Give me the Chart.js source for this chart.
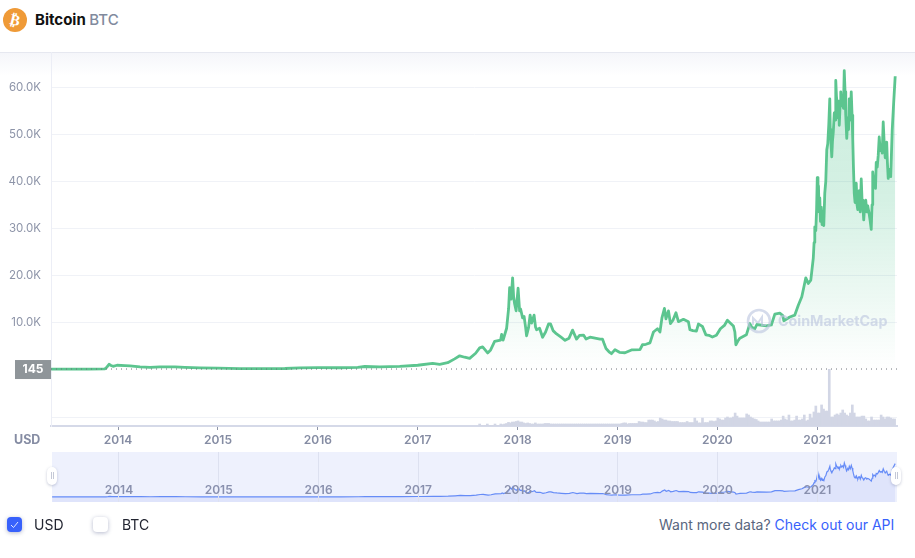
<!DOCTYPE html>
<html>
<head>
<meta charset="utf-8">
<title>Bitcoin BTC</title>
<script src="https://cdn.jsdelivr.net/npm/chart.js@4"></script>
<style>
  html, body { margin: 0; padding: 0; background: #fff; }
  body { width: 915px; height: 558px; position: relative; overflow: hidden; font-family: Inter, sans-serif; }
  .abs { position: absolute; }
  #title { left: 35px; top: 11px; font-size: 15px; font-weight: 700; color: #111; line-height: 18px; white-space: nowrap; }
  #title span { font-weight: 500; color: #808a9d; }
  #topBand { left: 0; top: 52px; width: 915px; height: 24px; background: linear-gradient(#f5f6fa, #fff); border-top: 1px solid #e6e8f0; box-sizing: border-box; }
  #usdLabel { left: 14px; top: 432px; font-size: 12.5px; font-weight: 700; color: #858ca3; line-height: 15px; }
  #mainChart { left: 0; top: 40px; }
  #navBox { left: 52px; top: 452px; width: 845px; height: 50px; background: #eef1fd; }
  #navChart { left: 0; top: 452px; }
  .handle { width: 10px; height: 18px; top: 467px; background: #fff; border-radius: 5px; box-shadow: 0 1px 3px rgba(90,100,140,.35); }
  .handle i { position: absolute; left: 3.5px; top: 5px; width: 1px; height: 7px; border-left: 1px solid #c4c8d6; border-right: 1px solid #c4c8d6; }
  #mark { left: 778px; top: 311px; font-size: 14.3px; font-weight: 700; color: rgba(188,197,222,.62); line-height: 19px; white-space: nowrap; }
  .check { top: 517px; width: 15px; height: 15px; border-radius: 4px; box-shadow: 0 1px 4px rgba(70,80,130,.4); box-sizing: border-box; }
  .lbl { top: 516px; font-size: 14px; color: #222531; line-height: 18px; }
  #more { left: 659px; top: 516px; font-size: 14px; color: #58667e; line-height: 18px; white-space: nowrap; }
  #more a { color: #3861fb; text-decoration: none; }
</style>
</head>
<body>
<svg class="abs" style="left:3px;top:8px" width="24" height="24" viewBox="0 0 24 24">
  <circle cx="12" cy="12" r="12" fill="#ef9a37"/>
  <text x="12" y="17" text-anchor="middle" transform="rotate(14 12 12)" font-family="DejaVu Sans" font-weight="700" font-size="15" fill="#fff">₿</text>
</svg>
<div class="abs" id="title">Bitcoin <span>BTC</span></div>
<div class="abs" id="topBand"></div>
<canvas class="abs" id="mainChart" width="915" height="410"></canvas>
<svg class="abs" style="left:746px;top:308px" width="26" height="26" viewBox="0 0 26 26" fill="none" stroke="rgba(188,197,222,.62)">
  <circle cx="13" cy="13" r="11" stroke-width="2.6"/>
  <path d="M7 17 V10 L12 15 M12 15 L16 9 V17 L20 17" stroke-width="2"/>
</svg>
<div class="abs" id="mark">CoinMarketCap</div>
<div class="abs" id="usdLabel">USD</div>
<div class="abs" id="navBox"></div>
<canvas class="abs" id="navChart" width="915" height="50"></canvas>
<div class="abs handle" style="left:47px"><i></i></div>
<div class="abs handle" style="left:891px"><i></i></div>
<svg class="abs check" style="left:7px;background:#3861fb" viewBox="0 0 15 15" fill="none"><path d="M4 8 L6.5 10.5 L11 5" stroke="#dfe6ff" stroke-width="1"/></svg>
<div class="abs lbl" style="left:34px">USD</div>
<div class="abs check" style="left:93px;background:#fff"></div>
<div class="abs lbl" style="left:122px">BTC</div>
<div class="abs" id="more">Want more data? <a>Check out our API</a></div>

<script>
const yearTicks = [2014, 2015, 2016, 2017, 2018, 2019, 2020, 2021];
const priceTicks = [10000, 20000, 30000, 40000, 50000, 60000];
const volumeTicks = [50];
const lastPrice = 145;

const dates = [
  2013.33, 2013.5, 2013.7, 2013.87, 2013.89, 2013.91, 2013.93, 2013.95, 2013.99, 2014.07, 2014.12, 2014.22, 2014.32, 2014.42, 2014.57, 2014.67, 2014.82,
  2015.0, 2015.22, 2015.42, 2015.67, 2015.82, 2016.0, 2016.22, 2016.4, 2016.47, 2016.62, 2016.82, 2017.0, 2017.02, 2017.15, 2017.22, 2017.3, 2017.37,
  2017.42, 2017.47, 2017.52, 2017.58, 2017.62, 2017.65, 2017.7, 2017.73, 2017.77, 2017.83, 2017.84, 2017.855, 2017.89, 2017.91, 2017.92, 2017.935, 2017.95,
  2017.96, 2017.97, 2017.985, 2018.005, 2018.02, 2018.03, 2018.05, 2018.065, 2018.08, 2018.09, 2018.11, 2018.125, 2018.14, 2018.165, 2018.18, 2018.19,
  2018.22, 2018.25, 2018.28, 2018.31, 2018.33, 2018.355, 2018.39, 2018.435, 2018.475, 2018.515, 2018.55, 2018.59, 2018.62, 2018.66, 2018.685, 2018.725,
  2018.825, 2018.85, 2018.865, 2018.885, 2018.915, 2018.94, 2018.975, 2019.02, 2019.075, 2019.14, 2019.225, 2019.25, 2019.285, 2019.325, 2019.36, 2019.4,
  2019.425, 2019.445, 2019.47, 2019.485, 2019.51, 2019.53, 2019.555, 2019.585, 2019.61, 2019.66, 2019.71, 2019.725, 2019.755, 2019.79, 2019.81, 2019.85,
  2019.885, 2019.915, 2019.95, 2019.99, 2020.03, 2020.07, 2020.1, 2020.16, 2020.175, 2020.185, 2020.205, 2020.225, 2020.29, 2020.325, 2020.345, 2020.375,
  2020.395, 2020.49, 2020.54, 2020.575, 2020.625, 2020.655, 2020.665, 2020.725, 2020.775, 2020.81, 2020.845, 2020.87, 2020.885, 2020.91, 2020.935, 2020.96,
  2020.968, 2020.975, 2020.985, 2020.993, 2021.0, 2021.007, 2021.012, 2021.018, 2021.025, 2021.032, 2021.04, 2021.048, 2021.056, 2021.065, 2021.075, 2021.085,
  2021.095, 2021.105, 2021.115, 2021.125, 2021.13, 2021.135, 2021.145, 2021.152, 2021.16, 2021.17, 2021.178, 2021.185, 2021.192, 2021.2, 2021.208, 2021.215,
  2021.22, 2021.228, 2021.235, 2021.245, 2021.255, 2021.262, 2021.27, 2021.278, 2021.285, 2021.295, 2021.305, 2021.313, 2021.32, 2021.33, 2021.34, 2021.348,
  2021.355, 2021.362, 2021.37, 2021.378, 2021.385, 2021.39, 2021.398, 2021.405, 2021.412, 2021.42, 2021.43, 2021.44, 2021.448, 2021.457, 2021.465, 2021.475,
  2021.485, 2021.495, 2021.505, 2021.52, 2021.53, 2021.54, 2021.548, 2021.555, 2021.565, 2021.575, 2021.583, 2021.59, 2021.6, 2021.61, 2021.62, 2021.63,
  2021.64, 2021.65, 2021.66, 2021.67, 2021.68, 2021.695, 2021.702, 2021.71, 2021.722, 2021.735, 2021.75, 2021.765, 2021.78
];
const prices = [
  145, 130, 140, 190, 600, 1150, 900, 720, 950, 880, 800, 600, 500, 620, 620, 500, 380,
  320, 240, 240, 260, 380, 430, 420, 500, 680, 600, 700, 950, 1000, 1360, 1150, 1500, 2300,
  2950, 2650, 2420, 3500, 4650, 4850, 3550, 4200, 6000, 6300, 7500, 6300, 8800, 13000, 17400, 15000, 19500,
  15500, 14000, 12500, 17300, 12500, 12900, 11000, 11300, 9000, 7200, 9000, 11600, 9900, 11600, 9000, 8500,
  8800, 6900, 8000, 9700, 9700, 8300, 7600, 6900, 6250, 6700, 8400, 6500, 7300, 7350, 6500, 6900,
  6500, 6500, 5600, 4500, 3800, 3400, 4250, 3700, 3600, 4200, 4250, 5300, 5400, 5700, 8000, 8700,
  8000, 11000, 13000, 10800, 12500, 9800, 10500, 12100, 10200, 10700, 10200, 8500, 8300, 8200, 9700, 9200,
  7400, 7300, 6950, 7300, 8700, 9400, 10500, 9300, 8000, 5300, 6100, 6700, 7400, 9800, 9000, 8700,
  9600, 9300, 9500, 11800, 12000, 11500, 10400, 11200, 11600, 13700, 15500, 18000, 19500, 18300, 19000, 23700,
  27000, 30300, 29500, 34000, 40800, 37000, 39000, 33500, 36500, 31500, 34500, 30800, 33000, 30600, 37500, 40000,
  46700, 48000, 52000, 57500, 51000, 49000, 45200, 48500, 50400, 54500, 53000, 61400, 58000, 56200, 53500, 57000,
  51900, 56000, 59000, 56000, 58200, 55500, 63500, 59000, 54000, 49100, 53500, 51000, 57500, 53000, 59000, 54000,
  49000, 43000, 37500, 35500, 38500, 39600, 35000, 34000, 37500, 38000, 33500, 40500, 36000, 34500, 31800, 35000,
  36000, 33500, 34800, 33000, 31500, 29800, 35000, 42000, 39500, 41000, 38500, 44000, 43000, 45500, 49400, 46500,
  47500, 46000, 52600, 48000, 45000, 48300, 44000, 40600, 42500, 41000, 50900, 56800, 62300
];

// weekly bars, billions of USD
const volumeStart = 2017.62;
const volumes = [
  11, 3, 3, 3, 11, 3, 3, 3, 11, 3, 3, 11, 8, 11, 14, 20, 17, 22, 22, 25, 28, 22, 22, 17, 14, 17, 14, 11, 11, 17, 11,
  11, 11, 11, 14, 14, 14, 11, 11, 11, 11, 11, 11, 11, 11, 11, 11, 11, 11, 11, 11, 11, 11, 11, 11, 11, 11, 11, 11, 11, 11, 11, 11, 11, 11, 11, 11, 11, 11, 11, 11, 11,
  11, 11, 14, 17, 17, 11, 14, 14, 14, 14, 14, 25,
  22, 22, 19, 19, 33, 33, 33, 28, 22, 25,
  44, 39, 33, 33, 28, 28, 25, 25, 25, 25, 19, 19, 19, 19, 25, 19, 19, 19,
  44, 28, 17, 17, 44, 19, 19, 19, 28, 28, 25, 28,
  44, 39, 33, 33, 44, 50, 44, 44, 50,
  72, 55, 44, 44, 44, 44,
  67, 61, 50, 44, 39, 36,
  28, 22, 22, 22, 22, 22, 22,
  39, 28, 28, 28, 28, 33,
  55, 39, 33, 61, 28, 28, 33,
  55, 33, 33, 39, 61, 28, 33,
  66, 44, 78, 111, 72, 72, 117, 94, 83, 83,
  315,
  50, 50, 61, 67, 61, 72,
  89, 72, 61, 55, 72,
  117, 72, 50, 50, 50, 55, 55, 39, 28, 28,
  50, 33, 33, 33, 33,
  61, 50, 39, 50, 50, 44, 39, 39
];

const xMin = 2013.329;
const xMax = 2021.798;
const pricePoints = dates.map((d, i) => ({ x: d, y: prices[i] }));
const volumePoints = volumes.map((v, i) => ({ x: volumeStart + i / 52, y: v }));

function fillGradient(context) {
  const chart = context.chart;
  if (!chart.chartArea) return "rgba(22,199,132,0.1)";
  const price = chart.scales.price;
  const top = price.getPixelForValue(60000);
  const bottom = price.getPixelForValue(0);
  const g = chart.ctx.createLinearGradient(0, top, 0, bottom);
  g.addColorStop(0, "rgba(22,175,105,0.22)");
  g.addColorStop(0.4, "rgba(22,175,105,0.18)");
  g.addColorStop(1, "rgba(22,175,105,0)");
  return g;
}

// grey box with the opening price, left of the dotted line
const lastPriceLabel = {
  id: "lastPriceLabel",
  afterDraw(chart) {
    const y = chart.scales.price.getPixelForValue(lastPrice);
    const ctx = chart.ctx;
    ctx.save();
    ctx.fillStyle = "#8f9599";
    ctx.fillRect(15, y - 9, 36, 19);
    ctx.fillStyle = "#fff";
    ctx.font = "700 12px Inter";
    ctx.textAlign = "center";
    ctx.textBaseline = "middle";
    ctx.fillText(String(lastPrice), 33, y + 0.5);
    ctx.restore();
  },
};

new Chart(document.getElementById("mainChart"), {
  type: "bar",
  plugins: [lastPriceLabel],
  data: {
    datasets: [
      {
        type: "line",
        data: pricePoints,
        yAxisID: "price",
        borderColor: "#5cc58f",
        borderWidth: 2.8,
        borderJoinStyle: "round",
        pointRadius: 0,
        tension: 0,
        fill: { value: 0 },
        backgroundColor: fillGradient,
        order: 2,
      },
      {
        type: "line",
        data: [{ x: xMin, y: lastPrice }, { x: xMax, y: lastPrice }],
        yAxisID: "price",
        borderColor: "#6d7278",
        borderWidth: 1,
        borderDash: [1, 4],
        pointRadius: 0,
        order: 1,
      },
      {
        type: "bar",
        data: volumePoints,
        yAxisID: "volume",
        backgroundColor: "#d2d6e5",
        barThickness: 2,
        order: 3,
      },
    ],
  },
  options: {
    responsive: false,
    animation: false,
    layout: { padding: { top: 12, right: 18, left: 0, bottom: 0 } },
    plugins: { legend: { display: false }, tooltip: { enabled: false } },
    scales: {
      x: {
        type: "linear",
        min: xMin,
        max: xMax,
        offset: false,
        afterBuildTicks: (s) => { s.ticks = yearTicks.map((v) => ({ value: v })); },
        afterFit: (s) => { s.height = 24; },
        grid: { drawOnChartArea: false, drawTicks: true, tickLength: 4, tickColor: "#8f95a8", offset: false },
        border: { color: "#d5d9e8", width: 2 },
        ticks: {
          callback: (v) => String(v),
          maxRotation: 0,
          padding: 3,
          color: "#858ca3",
          font: { family: "Inter", size: 12, weight: "600" },
        },
      },
      price: {
        position: "left",
        min: -11950,
        max: 67450,
        afterBuildTicks: (s) => { s.ticks = priceTicks.map((v) => ({ value: v })); },
        afterFit: (s) => { s.width = 51; s.paddingTop = 0; s.paddingBottom = 0; },
        grid: { color: "#f0f2f7", drawTicks: false },
        border: { color: "#eceef6" },
        ticks: {
          callback: (v) => (v / 1000).toFixed(1) + "K",
          padding: 10,
          color: "#8d94a8",
          font: { family: "Inter", size: 11.5 },
        },
      },
      volume: {
        position: "right",
        min: 0,
        max: 2078,
        afterBuildTicks: (s) => { s.ticks = volumeTicks.map((v) => ({ value: v })); },
        afterFit: (s) => { s.width = 0; },
        grid: { color: "#f0f2f7", drawTicks: false },
        border: { display: false },
        ticks: { display: false },
      },
    },
  },
});

new Chart(document.getElementById("navChart"), {
  type: "line",
  data: {
    datasets: [
      {
        data: pricePoints,
        borderColor: "#668cf7",
        borderWidth: 1.2,
        pointRadius: 0,
        tension: 0,
        fill: "start",
        backgroundColor: "#dfe4fb",
      },
    ],
  },
  options: {
    responsive: false,
    animation: false,
    layout: { padding: { left: 52, right: 18, top: 0, bottom: 0 } },
    plugins: { legend: { display: false }, tooltip: { enabled: false } },
    scales: {
      x: {
        type: "linear",
        min: xMin,
        max: xMax,
        afterBuildTicks: (s) => { s.ticks = yearTicks.map((v) => ({ value: v })); },
        afterFit: (s) => { s.height = 0; },
        grid: { color: "#dde1f0", drawTicks: false, z: 1 },
        border: { display: false },
        ticks: {
          callback: (v) => String(v),
          mirror: true,
          z: 2,
          padding: 4,
          maxRotation: 0,
          color: "#8990ae",
          font: { family: "Inter", size: 12, weight: "600" },
        },
      },
      y: {
        min: -9300,
        max: 84000,
        display: false,
      },
    },
  },
});
</script>
</body>
</html>
